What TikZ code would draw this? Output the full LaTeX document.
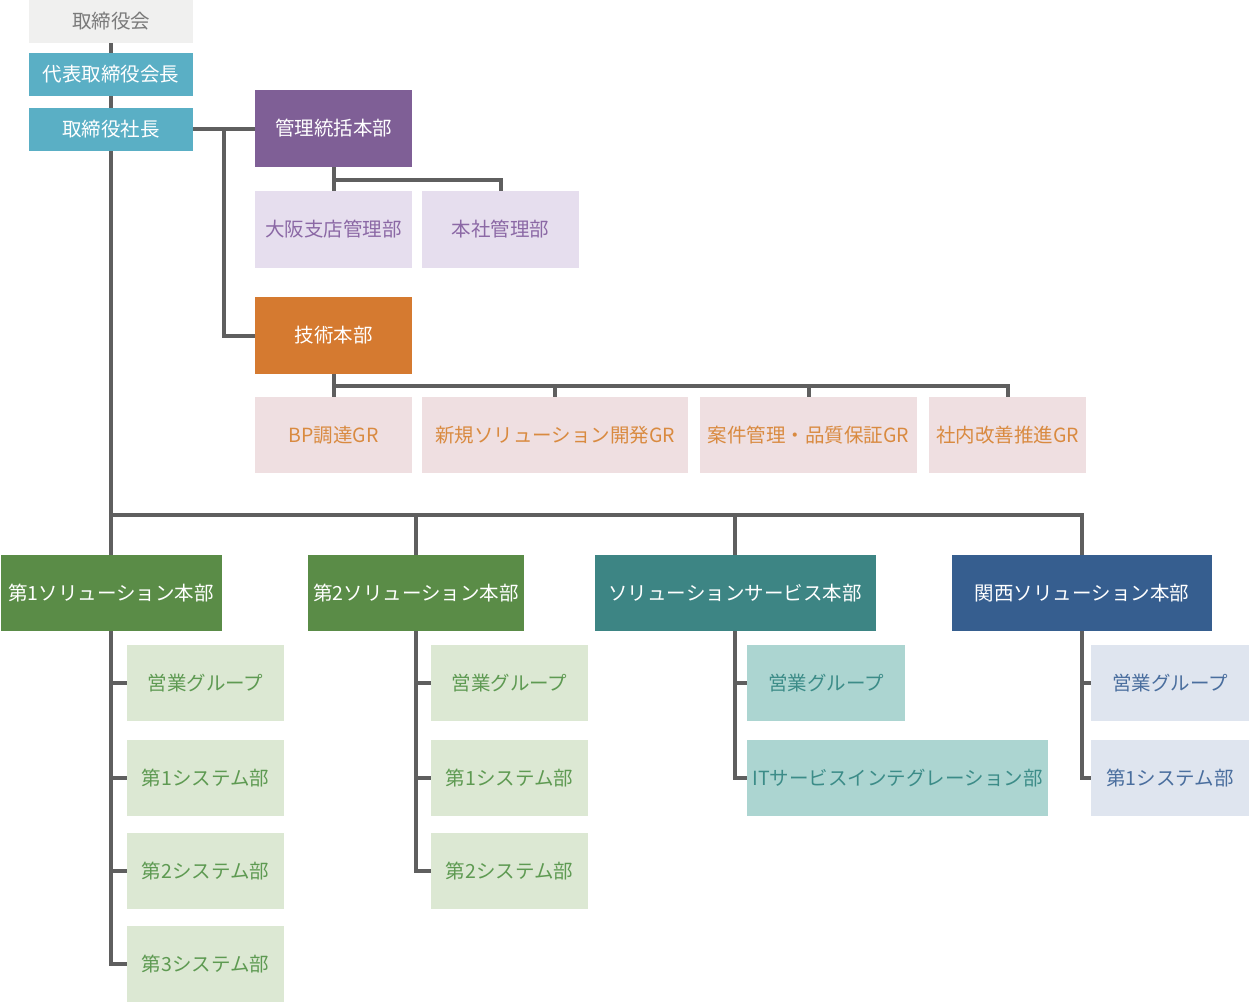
\documentclass[tikz,border=0pt]{standalone}
\usepackage{fontspec}
\newfontfamily\jp{Noto Sans CJK JP}
\definecolor{chairF}{HTML}{F0F0EF}
\definecolor{chairT}{HTML}{7A7A7A}
\definecolor{cyanF}{HTML}{5AAFC5}
\definecolor{purF}{HTML}{7F5F96}
\definecolor{lavF}{HTML}{E6DEEE}
\definecolor{purT}{HTML}{8B68A5}
\definecolor{oraF}{HTML}{D57A30}
\definecolor{pinkF}{HTML}{EFDFE1}
\definecolor{oraT}{HTML}{D98A40}
\definecolor{grnF}{HTML}{5A8C47}
\definecolor{lgrnF}{HTML}{DCE8D3}
\definecolor{grnT}{HTML}{5E9A52}
\definecolor{tealF}{HTML}{3D8584}
\definecolor{ltealF}{HTML}{ACD5D1}
\definecolor{tealT}{HTML}{3C8C88}
\definecolor{navF}{HTML}{365E8F}
\definecolor{lnavF}{HTML}{DFE5EF}
\definecolor{navT}{HTML}{4A6E9E}
\definecolor{lineC}{HTML}{5F5F5F}
\tikzset{
  x=1pt, y=-1pt,
  box/.style={inner sep=0pt, anchor=center, font=\jp\fontsize{19.5}{19.5}\selectfont},
  top/.style={box, minimum width=164pt, minimum height=43pt},
  big/.style={box, minimum height=77pt},
  sub/.style={box, minimum height=76pt},
  conn/.style={draw=lineC, line width=4pt},
}
\begin{document}
\begin{tikzpicture}
\useasboundingbox (0,0) rectangle (1250,1003);
% top
\node[top, fill=chairF, text=chairT] (chair) at (111,21.5) {取締役会};
\node[top, fill=cyanF, text=white] (vice) at (111,74.5) {代表取締役会長};
\node[top, fill=cyanF, text=white] (pres) at (111,129.5) {取締役社長};
% management
\node[big, fill=purF, text=white, minimum width=157pt] (kanri) at (333.5,128.5) {管理統括本部};
\node[big, fill=lavF, text=purT, minimum width=157pt] (osaka) at (333.5,229.5) {大阪支店管理部};
\node[big, fill=lavF, text=purT, minimum width=157pt] (honsha) at (500.5,229.5) {本社管理部};
% tech
\node[big, fill=oraF, text=white, minimum width=157pt] (gijutsu) at (333.5,335.5) {技術本部};
\node[sub, fill=pinkF, text=oraT, minimum width=157pt] (gr1) at (333.5,435) {BP調達GR};
\node[sub, fill=pinkF, text=oraT, minimum width=266pt] (gr2) at (555,435) {新規ソリューション開発GR};
\node[sub, fill=pinkF, text=oraT, minimum width=217pt] (gr3) at (808.5,435) {案件管理・品質保証GR};
\node[sub, fill=pinkF, text=oraT, minimum width=157pt] (gr4) at (1007.5,435) {社内改善推進GR};
% solution divisions
\node[sub, fill=grnF, text=white, minimum width=221pt] (s1) at (111,593) {第1ソリューション本部};
\node[sub, fill=grnF, text=white, minimum width=216pt] (s2) at (416,593) {第2ソリューション本部};
\node[sub, fill=tealF, text=white, minimum width=281pt] (s3) at (735,593) {ソリューションサービス本部};
\node[sub, fill=navF, text=white, minimum width=260pt] (s4) at (1082,593) {関西ソリューション本部};
% s1 children
\node[sub, fill=lgrnF, text=grnT, minimum width=157pt] (a1) at (205.5,683) {営業グループ};
\node[sub, fill=lgrnF, text=grnT, minimum width=157pt] (a2) at (205.5,778) {第1システム部};
\node[sub, fill=lgrnF, text=grnT, minimum width=157pt] (a3) at (205.5,871) {第2システム部};
\node[sub, fill=lgrnF, text=grnT, minimum width=157pt] (a4) at (205.5,964) {第3システム部};
% s2 children
\node[sub, fill=lgrnF, text=grnT, minimum width=157pt] (b1) at (509.5,683) {営業グループ};
\node[sub, fill=lgrnF, text=grnT, minimum width=157pt] (b2) at (509.5,778) {第1システム部};
\node[sub, fill=lgrnF, text=grnT, minimum width=157pt] (b3) at (509.5,871) {第2システム部};
% s3 children
\node[sub, fill=ltealF, text=tealT, minimum width=158pt] (c1) at (826,683) {営業グループ};
\node[sub, fill=ltealF, text=tealT, minimum width=301pt] (c2) at (897.5,778) {ITサービスインテグレーション部};
% s4 children
\node[sub, fill=lnavF, text=navT, minimum width=158pt] (d1) at (1170,683) {営業グループ};
\node[sub, fill=lnavF, text=navT, minimum width=158pt] (d2) at (1170,778) {第1システム部};
% connectors
\draw[conn] (chair.south) -- (vice.north);
\draw[conn] (vice.south) -- (pres.north);
\draw[conn] (pres.east) -- (pres.east -| kanri.west);
\coordinate (j1) at (224,129.5);
\draw[conn] (j1) |- (gijutsu.west);
\draw[conn] (kanri.south) -- (osaka.north);
\coordinate (k1) at (333.5,180);
\draw[conn] (k1) -| (honsha.north);
\draw[conn] (gijutsu.south) -- (gr1.north);
\coordinate (g1) at (333.5,386);
\draw[conn] (g1) -| (gr2.north);
\draw[conn] (g1) -| (gr3.north);
\draw[conn] (g1) -| (gr4.north);
\draw[conn] (pres.south) -- (s1.north);
\coordinate (bus) at (111,515);
\draw[conn] (bus) -| (s2.north);
\draw[conn] (bus) -| (s3.north);
\draw[conn] (bus) -| (s4.north);
\draw[conn] (s1.south) |- (a1.west);
\draw[conn] (s1.south) |- (a2.west);
\draw[conn] (s1.south) |- (a3.west);
\draw[conn] (s1.south) |- (a4.west);
\draw[conn] (s2.south) |- (b1.west);
\draw[conn] (s2.south) |- (b2.west);
\draw[conn] (s2.south) |- (b3.west);
\draw[conn] (s3.south) |- (c1.west);
\draw[conn] (s3.south) |- (c2.west);
\draw[conn] (s4.south) |- (d1.west);
\draw[conn] (s4.south) |- (d2.west);
\end{tikzpicture}
\end{document}
